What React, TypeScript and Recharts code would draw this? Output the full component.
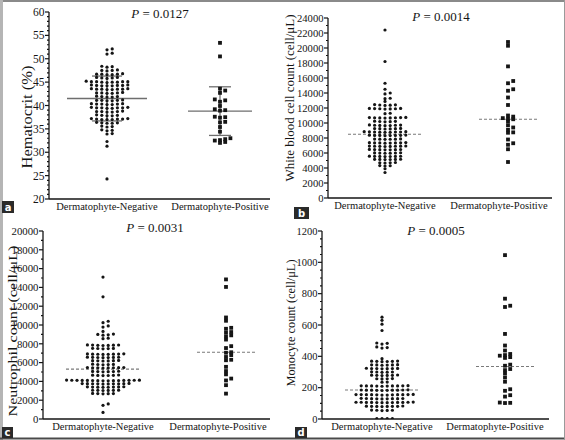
import { ScatterChart, Scatter, XAxis, YAxis, ReferenceLine } from 'recharts';

const categories = ['Dermatophyte-Negative', 'Dermatophyte-Positive'];

// a: hematocrit (%)
const hctNeg = [
  52.1, 51.9, 51.2, 51.0, 48.3, 48.4, 48.2, 47.5, 47.6, 47.4, 47.5,
  46.7, 46.6, 46.8, 46.7, 46.6, 46.7, 45.9, 46.0, 45.9, 45.8, 46.0,
  45.1, 45.0, 45.1, 45.2, 45.0, 45.1, 45.0, 44.9, 45.1,
  44.3, 44.2, 44.4, 44.3, 44.2, 44.3, 44.4, 44.2,
  43.5, 43.4, 43.5, 43.6, 43.5, 43.4, 43.5, 43.6,
  42.7, 42.6, 42.8, 42.7, 42.6, 42.7, 41.9, 41.8, 42.0, 41.9, 41.8,
  41.1, 41.0, 41.2, 41.1, 41.0, 41.1, 40.3, 40.2, 40.4, 40.3, 40.2, 40.3, 40.4,
  39.5, 39.4, 39.6, 39.5, 39.4, 39.5, 39.6, 39.5, 38.7, 38.6, 38.8, 38.7, 38.6, 38.7,
  37.9, 37.8, 38.0, 37.9, 37.8, 37.1, 37.0, 37.2, 37.1, 37.0, 37.1, 37.2, 37.0,
  36.3, 36.2, 36.4, 36.3, 36.2, 35.5, 35.4, 35.6, 34.7, 34.6, 34.8, 34.0, 33.9,
  32.3, 31.3, 24.3,
];
const hctPos = [
  53.4, 50.5, 43.6, 43.2, 42.7, 41.3, 41.1, 40.8, 39.9, 39.2, 39.0, 38.9, 37.6,
  37.5, 37.4, 36.5, 36.4, 35.4, 34.4, 33.0, 32.8, 32.6, 32.5, 32.2, 32.0,
];
const hctMean = [41.5, 38.8];
const hctSd = [4.8, 5.2];
const hctTicks = [20, 25, 30, 35, 40, 45, 50, 55, 60];

// b: white blood cell count
const wbcNeg = [
  22400, 18200, 15300, 14500, 14000, 13880, 13300, 13240, 12880,
  12420, 12380, 12460, 12350, 12400, 11920, 11880, 11950, 11900, 11860, 11940, 11900,
  11300, 11240, 10720, 10680, 10750, 10700, 10660, 10720, 10700, 10680,
  10220, 10180, 10250, 10200, 10160, 9700, 9660, 9740, 9700, 9680, 9720, 9650,
  9250, 9210, 9280, 9240, 9200, 9260, 8800, 8760, 8840, 8800, 8780, 8820, 8760, 8840, 8800,
  8350, 8320, 8380, 8340, 8360, 8310, 8390, 8350, 7850, 7820, 7880, 7840, 7860, 7830,
  7350, 7320, 7380, 7340, 7360, 7310, 7390, 7350, 6900, 6870, 6930, 6890, 6910, 6880, 6920, 6900,
  6450, 6420, 6480, 6440, 6460, 6430, 6470, 6000, 5970, 6030, 5990, 6010, 5980,
  5550, 5520, 5580, 5540, 5560, 5530, 5570, 5150, 5120, 5170, 5140, 5160, 5130,
  4700, 4670, 4730, 4690, 4300, 4270, 4320, 3900, 3400,
];
const wbcPos = [
  20800, 20300, 17550, 15600, 15300, 14500, 14300, 13400, 12400, 11000, 10850, 10650, 10550,
  10500, 10200, 9700, 9400, 9100, 8750, 8700, 7800, 7300, 7100, 6500, 4800,
];
const wbcMedian = [8500, 10500];
const wbcTicks = [0, 2000, 4000, 6000, 8000, 10000, 12000, 14000, 16000, 18000, 20000, 22000, 24000];

// c: neutrophil count
const neuNeg = [
  15100, 13000, 10400, 10250, 9900, 9780, 9320, 9000, 8960, 8920, 9030, 8600, 8550,
  7850, 7820, 7880, 7840, 7860, 7830, 7870, 7500, 7470, 7520, 7490, 7510,
  6900, 6870, 6930, 6890, 6910, 6880, 6920, 6900, 6550, 6520, 6580, 6540, 6560, 6530, 6570,
  6200, 6170, 6230, 6190, 6210, 6180, 5800, 5770, 5830, 5790, 5810,
  5450, 5420, 5480, 5440, 5460, 5430, 5470, 5450, 5050, 5020, 5080, 5040, 5060, 5030,
  4650, 4620, 4680, 4640, 4660, 4630,
  4100, 4080, 4120, 4090, 4110, 4070, 4130, 4100, 4090, 4110, 4080, 4120, 4100, 4060, 4140,
  3750, 3730, 3770, 3740, 3760, 3720, 3780, 3750, 3740, 3760,
  3400, 3380, 3420, 3390, 3410, 3370, 3430, 3400, 3050, 3030, 3070, 3040, 3060, 3050,
  2700, 2680, 2720, 2690, 2710, 1600, 1450, 700,
];
const neuPos = [
  14850, 14050, 10800, 10450, 9700, 9600, 9250, 9200, 8900, 8800, 8450, 7750, 7550,
  7100, 7050, 6800, 6600, 6300, 6250, 5550, 5100, 4750, 4300, 4100, 3600, 2700,
];
const neuMedian = [5300, 7100];
const neuTicks = [0, 2000, 4000, 6000, 8000, 10000, 12000, 14000, 16000, 18000, 20000];

// d: monocyte count
const monoNeg = [
  650, 630, 605, 565, 485, 483, 478, 460, 456, 453, 385,
  368, 367, 369, 368, 366, 370, 345, 344, 346, 345, 343, 347,
  322, 321, 323, 322, 320, 324, 322, 300, 299, 301, 300, 298,
  279, 278, 280, 279, 277, 281, 257, 256, 258, 257, 236, 235,
  211, 210, 212, 211, 209, 213, 211, 210, 212, 211,
  184, 183, 185, 184, 182, 186, 184, 183, 185, 184,
  155, 154, 156, 155, 153, 157, 155, 154, 156, 155, 153, 156,
  130, 129, 131, 130, 128, 132, 130, 129, 131,
  106, 105, 107, 106, 104, 108, 106, 105, 107, 106, 104, 107,
  81, 80, 82, 81, 79, 83, 81, 80, 56, 55, 57, 56, 54, 2, 2, 2, 2,
];
const monoPos = [
  1046, 768, 723, 715, 543, 469, 437, 415, 408, 404, 395, 390, 347,
  340, 319, 312, 291, 265, 238, 190, 180, 152, 143, 105, 103, 102,
];
const monoMedian = [185, 335];
const monoTicks = [0, 200, 400, 600, 800, 1000, 1200];

const pValues = ['0.0127', '0.0014', '0.0031', '0.0005'];
const yTitles = [
  'Hematocrit (%)',
  'White blood cell count (cell/μL)',
  'Neutrophil count (cell/μL)',
  'Monocyte count (cell/μL)',
];
const letters = ['a', 'b', 'c', 'd'];

const SERIF = '"Liberation Serif", "Times New Roman", serif';
const INK = '#151515';
const GAP = 5.2;
const ROW_PX = 2.5;

function swarm(values: number[], cx: number, yPx: number, xPx: number) {
  const placed: { s: number; p: number }[] = [];
  return [...values].sort((a, b) => a - b).map((v) => {
    const p = v * yPx;
    let i = 0;
    let s = 0;
    for (;;) {
      s = i === 0 ? 0 : i % 2 ? (i + 1) / 2 : -i / 2;
      if (!placed.some((q) => q.s === s && Math.abs(q.p - p) < ROW_PX)) break;
      i++;
    }
    placed.push({ s, p });
    return { x: cx + (s * GAP) / xPx, y: v };
  });
}

const panels = [
  {
    left: 0, top: 0, w: 282, h: 220, plot: { l: 49, t: 12, r: 270, b: 199 }, negAt: 58, posAt: 171, posShift: 0,
    neg: hctNeg, pos: hctPos, majors: hctTicks, minorPer: 5, tickFont: 11.5, center: hctMean, spread: hctSd,
  },
  {
    left: 282, top: 0, w: 283, h: 220, plot: { l: 46, t: 18, r: 270, b: 198 }, negAt: 57, posAt: 171, posShift: 9,
    neg: wbcNeg, pos: wbcPos, majors: wbcTicks, minorPer: 2, tickFont: 10.6, center: wbcMedian, spread: null,
  },
  {
    left: 0, top: 220, w: 282, h: 220, plot: { l: 43, t: 11, r: 270, b: 199 }, negAt: 60, posAt: 175, posShift: 8,
    neg: neuNeg, pos: neuPos, majors: neuTicks, minorPer: 2, tickFont: 10.8, center: neuMedian, spread: null,
  },
  {
    left: 282, top: 220, w: 283, h: 220, plot: { l: 40, t: 11, r: 267, b: 199 }, negAt: 60, posAt: 173, posShift: 10,
    neg: monoNeg, pos: monoPos, majors: monoTicks, minorPer: 4, tickFont: 10.5, center: monoMedian, spread: null,
  },
];

// title text is stretched lengthwise in the source figure
const titlePos = [
  { x: 27, y: 117, size: 14, len: 103 },
  { x: 290, y: 98, size: 12.8, len: 167 },
  { x: 12.5, y: 331, size: 13.5, len: 171 },
  { x: 291, y: 323, size: 12.4, len: 127 },
];
const pPos = [
  { x: 160, y: 18 },
  { x: 441, y: 21 },
  { x: 155, y: 232 },
  { x: 436, y: 235 },
];
const letterBox = [
  { x: 2, y: 201, w: 12, h: 12 },
  { x: 294, y: 207, w: 15, h: 12 },
  { x: 2, y: 427, w: 11, h: 11 },
  { x: 295, y: 427, w: 12, h: 11 },
];

const Dot = (props: any) => <circle cx={props.cx} cy={props.cy} r={1.6} fill={INK} />;
const Sq = (props: any) => <rect x={props.cx - 1.9} y={props.cy - 1.9} width={3.8} height={3.8} fill={INK} />;

function Panel({ cfg }: { cfg: (typeof panels)[number] }) {
  const { w, h, plot, majors } = cfg;
  const pw = plot.r - plot.l;
  const ph = plot.b - plot.t;
  const unit = cfg.posAt - cfg.negAt;
  const xDom: [number, number] = [-cfg.negAt / unit, (pw - cfg.negAt) / unit];
  const yMin = majors[0];
  const yMax = majors[majors.length - 1];
  const yPx = ph / (yMax - yMin);
  const centers = [0, 1 + cfg.posShift / unit];
  const negPts = swarm(cfg.neg, centers[0], yPx, unit);
  const posPts = swarm(cfg.pos, centers[1], yPx, unit);

  const step = (majors[1] - majors[0]) / cfg.minorPer;
  const allTicks: number[] = [];
  for (let v = yMin; v <= yMax + 1e-9; v += step) allTicks.push(Math.round(v * 1000) / 1000);

  const YTick = (props: any) => {
    const v = props.payload.value;
    const major = majors.includes(v);
    return (
      <g>
        <line x1={props.x} x2={props.x - (major ? 4 : 2)} y1={props.y} y2={props.y} stroke={INK} strokeWidth={1.2} />
        {major && (
          <text x={props.x - 4.5} y={props.y} dy="0.35em" textAnchor="end" fontSize={cfg.tickFont} fontFamily={SERIF} fill={INK}>
            {v}
          </text>
        )}
      </g>
    );
  };
  const XTick = (props: any) => (
    <text x={props.x} y={props.y + 10.5} textAnchor="middle" fontSize={10.5} fontFamily={SERIF} fill={INK}>
      {categories[Math.round(props.payload.value)]}
    </text>
  );

  const lineStyle = cfg.spread
    ? { stroke: '#6e6e6e', strokeWidth: 1.3 }
    : { stroke: '#7a7a7a', strokeWidth: 1.2, strokeDasharray: '3 2' };
  const halfW = cfg.spread ? [40, 32] : [37, 29];
  const capW = [15, 11];

  return (
    <div style={{ position: 'absolute', left: cfg.left, top: cfg.top }}>
      <ScatterChart width={w} height={h} margin={{ top: plot.t, right: w - plot.r, bottom: h - plot.b - 20, left: 0 }}>
        <XAxis
          type="number"
          dataKey="x"
          domain={xDom}
          ticks={[0, 1]}
          interval={0}
          allowDataOverflow
          height={20}
          tickSize={0}
          tickMargin={0}
          tickLine={false}
          tick={XTick}
          axisLine={{ stroke: INK, strokeWidth: 1.3 }}
        />
        <YAxis
          type="number"
          dataKey="y"
          domain={[yMin, yMax]}
          ticks={allTicks}
          interval={0}
          allowDataOverflow
          width={plot.l}
          tickSize={0}
          tickMargin={0}
          tickLine={false}
          tick={YTick}
          axisLine={{ stroke: INK, strokeWidth: 1.3 }}
        />
        {centers.map((c, i) => (
          <ReferenceLine
            key={'m' + i}
            segment={[{ x: c - halfW[i] / unit, y: cfg.center[i] }, { x: c + halfW[i] / unit, y: cfg.center[i] }]}
            {...lineStyle}
          />
        ))}
        {cfg.spread &&
          centers.map((c, i) => {
            const lo = cfg.center[i] - cfg.spread![i];
            const hi = cfg.center[i] + cfg.spread![i];
            return [
              <ReferenceLine key={'v' + i} segment={[{ x: c, y: lo }, { x: c, y: hi }]} {...lineStyle} />,
              <ReferenceLine key={'h' + i} segment={[{ x: c - capW[i] / unit, y: hi }, { x: c + capW[i] / unit, y: hi }]} {...lineStyle} />,
              <ReferenceLine key={'l' + i} segment={[{ x: c - capW[i] / unit, y: lo }, { x: c + capW[i] / unit, y: lo }]} {...lineStyle} />,
            ];
          })}
        <Scatter data={negPts} shape={Dot} isAnimationActive={false} />
        <Scatter data={posPts} shape={Sq} isAnimationActive={false} />
      </ScatterChart>
    </div>
  );
}

export default function App() {
  return (
    <div style={{ position: 'absolute', left: 0, top: 0, width: 565, height: 440, background: '#fff', overflow: 'hidden' }}>
      {panels.map((cfg, i) => (
        <Panel key={i} cfg={cfg} />
      ))}
      <svg width={565} height={440} style={{ position: 'absolute', left: 0, top: 0, pointerEvents: 'none' }}>
        <line x1={0} x2={565} y1={1} y2={1} stroke="#8a8a8a" strokeWidth={2} />
        <line x1={1.5} x2={1.5} y1={0} y2={440} stroke="#b5b5b5" strokeWidth={3} />
        <line x1={0} x2={565} y1={438.5} y2={438.5} stroke="#4a4a4a" strokeWidth={2} />
        <line x1={564.5} x2={564.5} y1={0} y2={440} stroke="#9a9a9a" strokeWidth={1} />
        {yTitles.map((t, i) => (
          <text
            key={t}
            x={titlePos[i].x}
            y={titlePos[i].y}
            transform={`rotate(-90 ${titlePos[i].x} ${titlePos[i].y})`}
            textAnchor="middle"
            dominantBaseline="central"
            fontSize={titlePos[i].size}
            textLength={titlePos[i].len}
            lengthAdjust="spacingAndGlyphs"
            fontFamily={SERIF}
            fill={INK}
          >
            {t}
          </text>
        ))}
        {pValues.map((p, i) => (
          <text key={p} x={pPos[i].x} y={pPos[i].y} textAnchor="middle" fontSize={13} fontFamily={SERIF} fill={INK}>
            <tspan fontStyle="italic">P</tspan> = {p}
          </text>
        ))}
        {letters.map((l, i) => (
          <g key={l}>
            <rect x={letterBox[i].x} y={letterBox[i].y} width={letterBox[i].w} height={letterBox[i].h} fill="#2a2a2a" />
            <text
              x={letterBox[i].x + letterBox[i].w / 2}
              y={letterBox[i].y + letterBox[i].h / 2}
              dy="0.36em"
              textAnchor="middle"
              fontSize={10}
              fontWeight="bold"
              fontFamily='"DejaVu Sans", sans-serif'
              fill="#fff"
            >
              {l}
            </text>
          </g>
        ))}
      </svg>
    </div>
  );
}
